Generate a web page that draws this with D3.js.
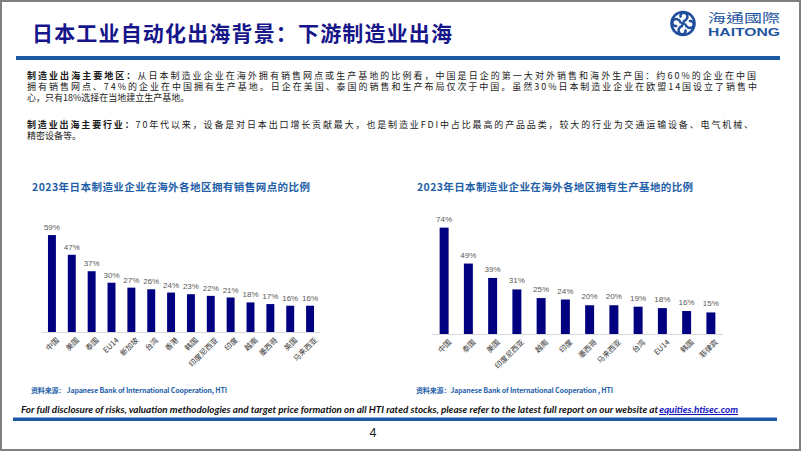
<!DOCTYPE html>
<html>
<head>
<meta charset="utf-8">
<script src="https://cdn.jsdelivr.net/npm/d3@7"></script>
<style>
  html, body { margin: 0; padding: 0; background: #fff; }
  svg { display: block; }
</style>
</head>
<body>
<svg id="chart" width="802" height="452"></svg>
<script>
// ---------- DATA ----------
const salesCategories = ["中国", "美国", "泰国", "EU14", "新加坡", "台湾", "香港", "韩国", "印度尼西亚", "印度", "越南", "墨西哥", "英国", "马来西亚"];
const salesValues = [59, 47, 37, 30, 27, 26, 24, 23, 22, 21, 18, 17, 16, 16];

const productionCategories = ["中国", "泰国", "美国", "印度尼西亚", "越南", "印度", "墨西哥", "马来西亚", "台湾", "EU14", "韩国", "菲律宾"];
const productionValues = [74, 49, 39, 31, 25, 24, 20, 20, 19, 18, 16, 15];

const pageTitle = "日本工业自动化出海背景：下游制造业出海";
const salesTitle = "2023年日本制造业企业在海外各地区拥有销售网点的比例";
const productionTitle = "2023年日本制造业企业在海外各地区拥有生产基地的比例";
const sourceLeft = "资料来源： Japanese Bank of International Cooperation, HTI";
const sourceRight = "资料来源：Japanese Bank of International Cooperation , HTI";

const para1 = [
  ["制造业出海主要地区：", "从日本制造业企业在海外拥有销售网点或生产基地的比例看，中国是日企的第一大对外销售和海外生产国：约60%的企业在中国"],
  ["", "拥有销售网点、74%的企业在中国拥有生产基地。日企在美国、泰国的销售和生产布局仅次于中国。虽然30%日本制造业企业在欧盟14国设立了销售中"],
  ["", "心，只有18%选择在当地建立生产基地。"]
];
const para2 = [
  ["制造业出海主要行业：", "70年代以来，设备是对日本出口增长贡献最大，也是制造业FDI中占比最高的产品品类，较大的行业为交通运输设备、电气机械、"],
  ["", "精密设备等。"]
];
const footerText = "For full disclosure of risks, valuation methodologies and target price formation on all HTI rated stocks, please refer to the latest full report on our website at ";
const footerLink = "equities.htisec.com";

// ---------- DRAW ----------
const svg = d3.select("#chart");
const CJK = "'Noto Sans CJK SC', 'Noto Sans', sans-serif";
const LAT = "'Liberation Sans', Arial, sans-serif";
const navy = "#000080";
const blue = "#1f5fa8";

svg.append("rect").attr("x", 1).attr("y", 1).attr("width", 799).attr("height", 449)
  .attr("fill", "#fff").attr("stroke", "#808080").attr("stroke-width", 2);

svg.append("text").attr("x", 32).attr("y", 41)
  .attr("font-family", CJK).attr("font-size", 21).attr("font-weight", 700)
  .attr("fill", "#16168a").attr("textLength", 420).attr("lengthAdjust", "spacing")
  .text(pageTitle);

svg.append("rect").attr("x", 16).attr("y", 56).attr("width", 764).attr("height", 4).attr("fill", "#1d5aa6");

const logo = svg.append("g").attr("transform", "translate(683,23.5)");
logo.append("circle").attr("r", 11.5).attr("fill", "none").attr("stroke", "#1f4e9c").attr("stroke-width", 2.6);
for (let i = 0; i < 4; i++) {
  logo.append("path")
    .attr("d", "M0,-2 C4,-3 6,-7 3,-10 C0,-12 -4,-9 -2,-6")
    .attr("fill", "none").attr("stroke", "#1f4e9c").attr("stroke-width", 2.4)
    .attr("transform", `rotate(${i * 90})`);
}
logo.append("circle").attr("r", 2).attr("fill", "#1f4e9c");
svg.append("text").attr("x", 708).attr("y", 23).attr("font-family", "'Noto Sans CJK TC', sans-serif")
  .attr("font-size", 12.5).attr("fill", "#1f56a0").attr("textLength", 72).attr("lengthAdjust", "spacingAndGlyphs")
  .text("海通國際");
svg.append("text").attr("x", 708).attr("y", 36).attr("font-family", LAT).attr("font-weight", 700)
  .attr("font-size", 11.5).attr("fill", "#1f56a0").attr("textLength", 72).attr("lengthAdjust", "spacingAndGlyphs")
  .text("HAITONG");

function drawPara(lines, y0, widths) {
  lines.forEach((ln, i) => {
    const t = svg.append("text").attr("x", 27).attr("y", y0 + i * 11)
      .attr("font-family", CJK).attr("font-size", 9).attr("fill", "#1a1a1a");
    if (widths[i]) t.attr("textLength", widths[i]).attr("lengthAdjust", "spacing");
    if (ln[0]) t.append("tspan").attr("font-weight", 700).text(ln[0]);
    t.append("tspan").text(ln[1]);
  });
}
drawPara(para1, 78.5, [729, 730, null]);
drawPara(para2, 127.5, [726, null]);

function barChart(cfg) {
  const g = svg.append("g");
  const x = d3.scaleBand().domain(cfg.cats).range(cfg.xr).paddingInner(cfg.pad).paddingOuter(cfg.pad / 2);
  const y = d3.scaleLinear().domain(cfg.yd).range([cfg.base, cfg.top]);
  const data = cfg.cats.map((c, i) => ({ c, v: cfg.vals[i] }));

  g.selectAll("rect.bar").data(data).enter().append("rect").attr("class", "bar")
    .attr("x", d => x(d.c)).attr("width", x.bandwidth())
    .attr("y", d => y(d.v)).attr("height", d => y(0) - y(d.v))
    .attr("fill", navy);

  const ax = g.append("g").attr("transform", `translate(0,${cfg.base})`)
    .call(d3.axisBottom(x).tickSize(0).tickFormat(""));
  ax.select(".domain").attr("stroke", "#d9d9d9").attr("d", `M${cfg.xr[0]},0.5H${cfg.xr[1]}`);

  const lab = g.selectAll("g.cat").data(data).enter().append("g").attr("class", "cat")
    .attr("transform", d => `translate(${x(d.c) + x.bandwidth() / 2 + 4},${cfg.base + 5})`);
  lab.append("text")
    .attr("transform", "rotate(-45)")
    .attr("text-anchor", "end").attr("dy", "0.7em")
    .attr("font-family", CJK).attr("font-size", 7.5).attr("fill", "#333")
    .text(d => d.c);

  g.selectAll("text.val").data(data).enter().append("text").attr("class", "val")
    .attr("x", d => x(d.c) + x.bandwidth() / 2).attr("y", d => y(d.v) - cfg.lblOff)
    .attr("text-anchor", "middle").attr("font-family", LAT).attr("font-size", 8)
    .attr("fill", "#595959").text(d => d.v + "%");

  svg.append("text").attr("x", cfg.tx).attr("y", 191).attr("font-family", CJK)
    .attr("font-size", 10.5).attr("font-weight", 700).attr("fill", blue)
    .attr("textLength", cfg.tw).attr("lengthAdjust", "spacing").text(cfg.title);
}

barChart({ cats: salesCategories, vals: salesValues, xr: [42, 320], pad: 0.6, yd: [0, 70], base: 332, top: 217, lblOff: 5, tx: 32, tw: 278, title: salesTitle });
barChart({ cats: productionCategories, vals: productionValues, xr: [432, 723], pad: 0.63, yd: [0, 80], base: 334, top: 219, lblOff: 6, tx: 417, tw: 276, title: productionTitle });

svg.append("text").attr("x", 31).attr("y", 392.5).attr("font-family", CJK).attr("font-size", 7)
  .attr("font-weight", 700).attr("fill", blue).attr("textLength", 196).attr("lengthAdjust", "spacing").text(sourceLeft);
svg.append("text").attr("x", 416).attr("y", 392.5).attr("font-family", CJK).attr("font-size", 7)
  .attr("font-weight", 700).attr("fill", blue).attr("textLength", 197).attr("lengthAdjust", "spacing").text(sourceRight);

const footFont = "Lato, 'Open Sans', sans-serif";
const f1 = svg.append("text").attr("x", 21).attr("y", 413).attr("font-family", footFont)
  .attr("font-size", 11.5).attr("font-style", "italic").attr("font-weight", 700).attr("fill", "#111")
  .text(footerText);
const f2 = svg.append("text").attr("y", 413).attr("font-family", footFont)
  .attr("font-size", 11.5).attr("font-style", "italic").attr("font-weight", 700).attr("fill", "#1010c0")
  .attr("text-decoration", "underline").text(footerLink);
const w1 = f1.node().getComputedTextLength();
const w2 = f2.node().getComputedTextLength();
const fs = 11.5 * 717 / (w1 + w2);
f1.attr("font-size", fs);
f2.attr("font-size", fs);
f2.attr("x", 21 + f1.node().getComputedTextLength() + 1);

svg.append("rect").attr("x", 13).attr("y", 417.5).attr("width", 764).attr("height", 3.5).attr("fill", "#1d5aa6");

svg.append("text").attr("x", 373).attr("y", 437).attr("text-anchor", "middle").attr("font-family", LAT)
  .attr("font-size", 12.5).attr("fill", "#222").text("4");
</script>
</body>
</html>
